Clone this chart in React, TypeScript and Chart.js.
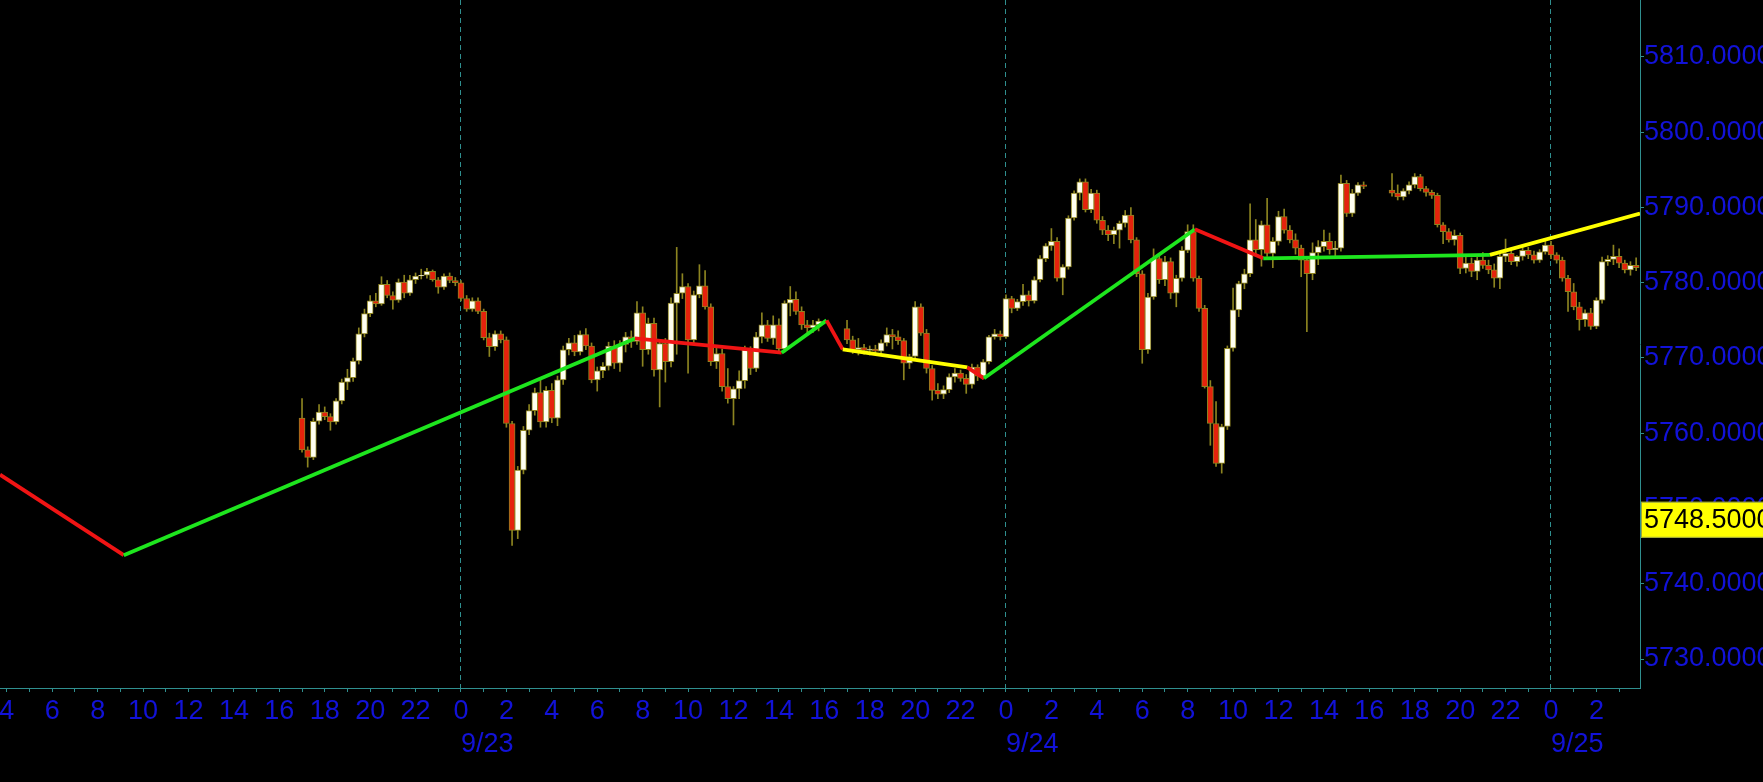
import React, { useEffect, useRef } from 'react';
import { Chart, registerables } from 'chart.js';

Chart.register(...registerables);

// ---------- axis ranges (hours from 9/23 00:00) ----------
const X_MIN = -20.3;
const X_MAX = 51.92;
const Y_MIN = 5726.15;
const Y_MAX = 5817.57;

const dayTicks = [0, 24, 48];
const dayLabels = ['9/23', '9/24', '9/25'];
const priceTicks = [5730, 5740, 5750, 5760, 5770, 5780, 5790, 5800, 5810];
const lastPrice = 5748.5;

// ---------- 15-minute candles, three sessions ----------
const sessionStarts = [-7, 17, 41]; // 9/22 17:00, 9/23 17:00, 9/24 17:00
const barStep = 0.25;

// Session A: 9/22 17:00 -> 9/23 15:45
const openA = [
  5762.0, 5757.8, 5756.8, 5761.6, 5762.8, 5762.2, 5761.5, 5764.3, 5766.8, 5767.4, 5769.6, 5773.2,
  5775.9, 5777.6, 5777.2, 5779.8, 5778.3, 5777.7, 5780.1, 5778.6, 5780.4, 5780.9, 5781.0, 5781.5,
  5780.4, 5779.4, 5780.9, 5780.3, 5780.0, 5777.9, 5776.5, 5777.6, 5776.2, 5772.7, 5771.5, 5773.2,
  5772.4, 5761.3, 5747.1, 5755.1, 5760.4, 5763.0, 5765.4, 5761.5, 5765.7, 5762.0, 5767.1, 5771.1,
  5772.0, 5770.8, 5773.1, 5771.6, 5767.1, 5768.3, 5768.9, 5771.6, 5769.3, 5771.8, 5772.8, 5772.2,
  5776.0, 5771.1, 5774.6, 5768.4, 5771.9, 5769.5, 5777.3, 5778.6, 5779.5, 5772.4, 5778.4, 5779.6,
  5776.8, 5769.5, 5770.6, 5766.2, 5764.6, 5765.9, 5767.0, 5771.1, 5768.6, 5772.8, 5774.4, 5772.6,
  5774.4, 5771.2, 5777.3, 5777.8, 5776.2, 5774.4, 5774.0, 5774.4,
];
const highA = [
  5764.6, 5758.2, 5762.0, 5763.8, 5763.5, 5762.6, 5764.6, 5767.2, 5768.5, 5770.0, 5774.0, 5776.5,
  5778.3, 5778.6, 5780.8, 5780.3, 5778.8, 5780.5, 5781.0, 5781.0, 5781.3, 5781.8, 5781.9, 5781.7,
  5780.7, 5781.2, 5781.3, 5780.7, 5780.3, 5778.3, 5778.0, 5778.0, 5776.5, 5773.3, 5773.6, 5773.6,
  5772.8, 5761.6, 5755.6, 5760.9, 5763.8, 5766.0, 5767.3, 5766.2, 5766.6, 5767.6, 5771.6, 5772.6,
  5773.0, 5773.6, 5773.9, 5772.0, 5768.8, 5769.4, 5772.1, 5772.3, 5772.3, 5773.4, 5773.6, 5777.5,
  5776.8, 5775.3, 5775.3, 5772.4, 5772.6, 5778.0, 5784.7, 5781.2, 5779.9, 5778.9, 5782.4, 5781.6,
  5777.2, 5771.4, 5771.2, 5768.6, 5766.2, 5768.3, 5771.6, 5771.5, 5773.4, 5776.0, 5775.0, 5775.6,
  5775.2, 5777.6, 5779.5, 5778.8, 5776.8, 5775.0, 5775.0, 5775.2,
];
const lowA = [
  5757.5, 5755.5, 5756.5, 5761.2, 5761.8, 5760.4, 5761.2, 5763.9, 5765.8, 5766.9, 5769.2, 5772.8,
  5775.5, 5776.8, 5777.0, 5778.0, 5776.5, 5777.4, 5778.0, 5778.3, 5779.9, 5780.5, 5780.6, 5780.2,
  5778.6, 5779.1, 5780.0, 5779.6, 5777.6, 5776.2, 5776.2, 5775.9, 5772.4, 5770.2, 5771.0, 5772.0,
  5760.8, 5745.1, 5746.0, 5754.6, 5759.8, 5762.4, 5760.8, 5760.8, 5761.4, 5761.0, 5766.5, 5770.4,
  5770.3, 5770.4, 5771.1, 5766.7, 5765.6, 5767.4, 5768.4, 5768.6, 5768.2, 5770.8, 5771.4, 5771.8,
  5768.9, 5770.5, 5767.6, 5763.5, 5766.8, 5768.8, 5770.5, 5777.9, 5768.0, 5771.8, 5778.0, 5776.5,
  5769.0, 5768.6, 5765.6, 5764.0, 5761.1, 5764.6, 5766.0, 5767.8, 5768.2, 5772.0, 5772.2, 5771.8,
  5770.6, 5770.8, 5775.6, 5775.8, 5773.8, 5773.2, 5773.4, 5773.6,
];
const closeA = [
  5757.8, 5756.8, 5761.6, 5762.8, 5762.2, 5761.5, 5764.3, 5766.8, 5767.4, 5769.6, 5773.2, 5775.9,
  5777.6, 5777.2, 5779.8, 5778.3, 5777.7, 5780.1, 5778.6, 5780.4, 5780.9, 5781.0, 5781.5, 5780.4,
  5779.4, 5780.9, 5780.3, 5780.0, 5777.9, 5776.5, 5777.6, 5776.2, 5772.7, 5771.5, 5773.2, 5772.4,
  5761.3, 5747.1, 5755.1, 5760.4, 5763.0, 5765.4, 5761.5, 5765.7, 5762.0, 5767.1, 5771.1, 5772.0,
  5770.8, 5773.1, 5771.6, 5767.1, 5768.3, 5768.9, 5771.6, 5769.3, 5771.8, 5772.8, 5772.2, 5776.0,
  5771.1, 5774.6, 5768.4, 5771.9, 5769.5, 5777.3, 5778.6, 5779.5, 5772.4, 5778.4, 5779.6, 5776.8,
  5769.5, 5770.6, 5766.2, 5764.6, 5765.9, 5767.0, 5771.1, 5768.6, 5772.8, 5774.4, 5772.6, 5774.4,
  5771.2, 5777.3, 5777.8, 5776.2, 5774.4, 5774.0, 5774.4, 5774.9,
];

// Session B: 9/23 17:00 -> 9/24 15:45
const openB = [
  5773.9, 5772.4, 5771.1, 5771.4, 5771.0, 5771.2, 5770.9, 5772.0, 5773.1, 5772.8, 5772.3, 5769.3,
  5770.2, 5776.8, 5773.3, 5768.6, 5765.7, 5765.2, 5765.8, 5767.5, 5768.0, 5767.3, 5766.5, 5768.8,
  5767.6, 5769.5, 5772.8, 5773.2, 5772.8, 5777.9, 5776.6, 5777.5, 5778.4, 5777.6, 5780.4, 5783.2,
  5784.9, 5785.5, 5780.6, 5782.1, 5788.6, 5791.9, 5793.4, 5789.7, 5791.9, 5788.3, 5787.0, 5786.4,
  5787.0, 5787.9, 5789.0, 5785.7, 5781.2, 5771.1, 5778.1, 5783.2, 5780.4, 5782.8, 5778.6, 5780.6,
  5784.3, 5786.8, 5780.6, 5776.6, 5766.2, 5761.3, 5756.0, 5760.9, 5771.3, 5776.4, 5779.9, 5781.2,
  5785.7, 5784.4, 5787.7, 5783.9, 5785.5, 5788.8, 5787.0, 5785.7, 5784.6, 5783.0, 5781.2, 5784.0,
  5784.8, 5785.5, 5784.4, 5784.6, 5793.2, 5789.2, 5791.9, 5793.0,
];
const highB = [
  5775.0, 5772.9, 5772.6, 5771.8, 5771.6, 5771.7, 5772.4, 5774.0, 5773.8, 5773.6, 5772.6, 5770.5,
  5777.5, 5777.2, 5773.8, 5769.0, 5766.6, 5766.3, 5767.9, 5768.6, 5768.4, 5767.8, 5769.2, 5769.1,
  5769.8, 5773.0, 5773.8, 5773.6, 5778.4, 5778.2, 5777.8, 5779.8, 5778.9, 5780.8, 5783.6, 5785.2,
  5787.2, 5786.0, 5782.4, 5788.9, 5792.2, 5793.8, 5793.8, 5792.4, 5792.3, 5788.8, 5787.6, 5787.4,
  5788.2, 5789.6, 5790.0, 5786.0, 5781.6, 5778.6, 5784.5, 5783.6, 5783.5, 5783.3, 5781.0, 5784.8,
  5787.7, 5787.7, 5780.9, 5777.0, 5767.0, 5764.2, 5761.2, 5771.6, 5779.3, 5780.2, 5781.8, 5790.5,
  5788.4, 5788.2, 5791.2, 5786.0, 5789.5, 5789.8, 5787.6, 5786.5, 5785.0, 5783.4, 5785.3, 5785.6,
  5787.0, 5786.6, 5785.5, 5794.3, 5793.6, 5792.4, 5793.3, 5793.4,
];
const lowB = [
  5771.9, 5770.6, 5770.4, 5770.5, 5770.4, 5770.5, 5770.6, 5771.6, 5771.2, 5771.8, 5767.1, 5768.6,
  5769.8, 5773.0, 5768.0, 5764.4, 5764.6, 5764.6, 5765.4, 5766.8, 5766.9, 5765.3, 5766.0, 5767.0,
  5767.2, 5769.2, 5772.5, 5772.4, 5772.6, 5776.0, 5776.3, 5777.0, 5776.9, 5777.3, 5780.1, 5782.8,
  5784.3, 5780.2, 5778.4, 5781.8, 5788.3, 5791.0, 5789.4, 5789.3, 5787.9, 5786.4, 5785.6, 5785.2,
  5784.6, 5787.4, 5785.3, 5780.8, 5769.3, 5770.6, 5777.8, 5779.9, 5779.6, 5777.9, 5776.8, 5780.2,
  5784.0, 5780.2, 5776.2, 5766.0, 5758.4, 5755.6, 5754.7, 5760.5, 5770.9, 5775.5, 5779.2, 5780.8,
  5783.6, 5782.2, 5783.5, 5782.0, 5785.0, 5786.6, 5785.3, 5783.8, 5780.8, 5773.5, 5780.4, 5782.4,
  5784.2, 5783.8, 5783.5, 5784.2, 5788.8, 5788.8, 5791.6, 5792.5,
];
const closeB = [
  5772.4, 5771.1, 5771.4, 5771.0, 5771.2, 5770.9, 5772.0, 5773.1, 5772.8, 5772.3, 5769.3, 5770.2,
  5776.8, 5773.3, 5768.6, 5765.7, 5765.2, 5765.8, 5767.5, 5768.0, 5767.3, 5766.5, 5768.8, 5767.6,
  5769.5, 5772.8, 5773.2, 5772.8, 5777.9, 5776.6, 5777.5, 5778.4, 5777.6, 5780.4, 5783.2, 5784.9,
  5785.5, 5780.6, 5782.1, 5788.6, 5791.9, 5793.4, 5789.7, 5791.9, 5788.3, 5787.0, 5786.4, 5787.0,
  5787.9, 5789.0, 5785.7, 5781.2, 5771.1, 5778.1, 5783.2, 5780.4, 5782.8, 5778.6, 5780.6, 5784.3,
  5786.8, 5780.6, 5776.6, 5766.2, 5761.3, 5756.0, 5760.9, 5771.3, 5776.4, 5779.9, 5781.2, 5785.7,
  5784.4, 5787.7, 5783.9, 5785.5, 5788.8, 5787.0, 5785.7, 5784.6, 5783.0, 5781.2, 5784.0, 5784.8,
  5785.5, 5784.4, 5784.6, 5793.2, 5789.2, 5791.9, 5793.0, 5792.8,
];

// Session C: 9/24 17:00 -> 9/25 03:45
const openC = [
  5792.3, 5791.9, 5791.4, 5792.2, 5793.0, 5794.1, 5792.5, 5792.0, 5791.6, 5787.7, 5786.8, 5785.7,
  5786.3, 5781.9, 5782.6, 5781.5, 5783.0, 5782.3, 5781.7, 5780.6, 5783.5, 5783.9, 5782.8, 5783.5,
  5784.3, 5783.7, 5783.0, 5784.1, 5785.0, 5783.7, 5783.0, 5780.6, 5778.8, 5776.8, 5775.1, 5776.0,
  5774.2, 5777.7, 5782.8, 5783.1, 5783.5, 5782.6, 5781.7, 5782.3,
];
const highC = [
  5794.5, 5793.0, 5792.5, 5793.4, 5794.5, 5794.4, 5792.8, 5792.3, 5791.9, 5788.0, 5787.2, 5787.0,
  5786.6, 5783.6, 5783.3, 5783.4, 5784.0, 5783.0, 5782.5, 5783.8, 5785.8, 5784.6, 5783.6, 5784.8,
  5784.7, 5784.2, 5784.4, 5785.9, 5785.5, 5784.0, 5783.4, 5781.0, 5779.9, 5777.4, 5776.4, 5776.6,
  5778.0, 5783.4, 5783.6, 5785.0, 5784.5, 5783.0, 5782.8, 5783.3,
];
const lowC = [
  5791.5, 5791.0, 5791.0, 5791.8, 5792.6, 5792.2, 5791.5, 5791.2, 5787.4, 5785.2, 5785.4, 5785.0,
  5781.2, 5781.3, 5780.8, 5780.4, 5781.9, 5781.2, 5779.4, 5779.2, 5782.8, 5782.4, 5782.2, 5783.0,
  5783.2, 5782.6, 5782.7, 5783.8, 5783.2, 5782.6, 5780.2, 5776.2, 5776.4, 5773.7, 5774.2, 5773.8,
  5773.9, 5777.3, 5782.3, 5782.4, 5782.0, 5781.3, 5781.0, 5781.6,
];
const closeC = [
  5791.9, 5791.4, 5792.2, 5793.0, 5794.1, 5792.5, 5792.0, 5791.6, 5787.7, 5786.8, 5785.7, 5786.3,
  5781.9, 5782.6, 5781.5, 5783.0, 5782.3, 5781.7, 5780.6, 5783.5, 5783.9, 5782.8, 5783.5, 5784.3,
  5783.7, 5783.0, 5784.1, 5785.0, 5783.7, 5783.0, 5780.6, 5778.8, 5776.8, 5775.1, 5776.0, 5774.2,
  5777.7, 5782.8, 5783.1, 5783.5, 5782.6, 5781.7, 5782.3, 5782.0,
];

// ---------- zigzag overlay ----------
const zigTimes = [-20.3, -14.85, 7.66, 14.12, 16.1, 16.81, 22.3, 23.03, 32.32, 35.33, 45.31, 51.92];
const zigValues = [5754.5, 5743.8, 5772.6, 5770.7, 5775.0, 5771.15, 5768.75, 5767.3, 5787.1, 5783.25, 5783.7, 5789.2];
const zigColors = ['red', 'green', 'red', 'green', 'red', 'yellow', 'red', 'green', 'red', 'green', 'yellow'];

// ---------- styles ----------
const TEAL = '#2f8f8f';
const BLUE = '#1212d8';
const UP = '#fffff0';
const DOWN = '#e5220c';
const OUTLINE = '#8f8420';
const WICK = '#8c8420';
const LINE_COLORS: Record<string, string> = { red: '#f01414', green: '#1ee61e', yellow: '#ffff00' };
const FONT = "'Liberation Sans', Arial, sans-serif";

function buildCandles() {
  const sessions = [
    { o: openA, h: highA, l: lowA, c: closeA },
    { o: openB, h: highB, l: lowB, c: closeB },
    { o: openC, h: highC, l: lowC, c: closeC },
  ];
  const wicks: any[] = [];
  const bodies: any[] = [];
  const colors: string[] = [];
  sessions.forEach((s, si) => {
    s.o.forEach((o, i) => {
      const t = sessionStarts[si] + i * barStep;
      const c = s.c[i];
      wicks.push({ x: t, y: [s.l[i], s.h[i]] });
      bodies.push({ x: t, y: [Math.min(o, c), Math.max(o, c)] });
      colors.push(c >= o ? UP : DOWN);
    });
  });
  return { wicks, bodies, colors };
}

const hourLabel = (v: number) => {
  const h = Math.round(v);
  const hod = ((h % 24) + 24) % 24;
  return hod % 2 === 0 ? String(hod) : '';
};

export default function App() {
  const ref = useRef<HTMLCanvasElement | null>(null);

  useEffect(() => {
    if (!ref.current) return;
    const { wicks, bodies, colors } = buildCandles();

    const bgPlugin = {
      id: 'bg',
      beforeDraw(chart: any) {
        const c = chart.ctx;
        c.save();
        c.fillStyle = '#000';
        c.fillRect(0, 0, chart.width, chart.height);
        c.restore();
      },
    };

    const pricePlugin = {
      id: 'lastPrice',
      afterDraw(chart: any) {
        const c = chart.ctx;
        const y = chart.scales.y.getPixelForValue(lastPrice);
        const left = chart.chartArea.right + 1;
        const h = 36;
        c.save();
        c.fillStyle = '#ffff00';
        c.fillRect(left, y - h / 2, chart.width - left, h);
        c.strokeStyle = '#9aa640';
        c.lineWidth = 1;
        c.strokeRect(left + 0.5, y - h / 2 + 0.5, chart.width - left, h - 1);
        c.fillStyle = '#000';
        c.font = `27px ${FONT}`;
        c.textBaseline = 'middle';
        c.textAlign = 'left';
        c.fillText(lastPrice.toFixed(4), left + 3, y + 1);
        c.restore();
      },
    };

    const chart = new Chart(ref.current, {
      type: 'bar',
      data: {
        datasets: [
          {
            type: 'line',
            data: zigTimes.map((t, i) => ({ x: t, y: zigValues[i] })),
            borderColor: LINE_COLORS.red,
            segment: {
              borderColor: (ctx: any) => LINE_COLORS[zigColors[ctx.p0DataIndex]],
            },
            borderWidth: 3.8,
            pointRadius: 0,
            tension: 0,
            order: 1,
          } as any,
          {
            type: 'bar',
            data: bodies,
            backgroundColor: colors,
            borderColor: OUTLINE,
            borderWidth: 1,
            borderSkipped: false,
            barThickness: 6,
            grouped: false,
            order: 2,
          } as any,
          {
            type: 'bar',
            data: wicks,
            backgroundColor: WICK,
            borderWidth: 0,
            barThickness: 1,
            grouped: false,
            order: 3,
          } as any,
        ],
      },
      options: {
        responsive: false,
        animation: false,
        events: [],
        layout: { padding: 0 },
        plugins: { legend: { display: false }, tooltip: { enabled: false } },
        scales: {
          x: {
            type: 'linear',
            position: 'bottom',
            min: X_MIN,
            max: X_MAX,
            offset: false,
            weight: 0,
            afterBuildTicks: (s: any) => {
              const ticks = [];
              for (let h = Math.ceil(X_MIN); h <= Math.floor(X_MAX); h++) ticks.push({ value: h });
              s.ticks = ticks;
            },
            afterFit: (s: any) => {
              s.height = 40;
              s.paddingLeft = 0;
              s.paddingRight = 0;
            },
            ticks: {
              autoSkip: false,
              maxRotation: 0,
              minRotation: 0,
              padding: 3,
              color: BLUE,
              font: { family: FONT, size: 27 },
              callback: (v: any) => hourLabel(Number(v)),
            },
            grid: {
              offset: false,
              drawOnChartArea: true,
              drawTicks: true,
              tickLength: 4,
              tickColor: TEAL,
              color: (ctx: any) =>
                ctx.tick && Math.round(ctx.tick.value) % 24 === 0 ? TEAL : 'rgba(0,0,0,0)',
            },
            border: { display: true, color: TEAL, width: 1, dash: [5, 4] },
          } as any,
          x2: {
            type: 'linear',
            axis: 'x',
            position: 'bottom',
            min: X_MIN,
            max: X_MAX,
            offset: false,
            weight: 1,
            afterBuildTicks: (s: any) => {
              s.ticks = dayTicks.map((v) => ({ value: v }));
            },
            afterFit: (s: any) => {
              s.height = 54;
              s.paddingLeft = 0;
              s.paddingRight = 0;
            },
            ticks: {
              autoSkip: false,
              maxRotation: 0,
              minRotation: 0,
              align: 'start',
              padding: 0,
              color: BLUE,
              font: { family: FONT, size: 27 },
              callback: (v: any) => {
                const i = dayTicks.indexOf(Math.round(Number(v)));
                return i >= 0 ? dayLabels[i] : '';
              },
            },
            grid: { display: false, drawTicks: false },
            border: { display: false },
          } as any,
          y: {
            type: 'linear',
            position: 'right',
            min: Y_MIN,
            max: Y_MAX,
            afterBuildTicks: (s: any) => {
              s.ticks = priceTicks.map((v) => ({ value: v }));
            },
            afterFit: (s: any) => {
              s.width = 123;
              s.paddingTop = 0;
              s.paddingBottom = 0;
            },
            ticks: {
              padding: 0,
              color: BLUE,
              font: { family: FONT, size: 27 },
              callback: (v: any) => Number(v).toFixed(4),
            },
            grid: {
              drawOnChartArea: false,
              drawTicks: true,
              tickLength: 4,
              tickColor: TEAL,
              color: TEAL,
            },
            border: { display: true, color: TEAL, width: 1 },
          } as any,
        },
      },
      plugins: [bgPlugin, pricePlugin],
    } as any);

    return () => chart.destroy();
  }, []);

  return (
    <div style={{ position: 'fixed', left: 0, top: 0, width: 1763, height: 782, background: '#000' }}>
      <canvas ref={ref} width={1763} height={782} style={{ display: 'block', width: 1763, height: 782 }} />
    </div>
  );
}
